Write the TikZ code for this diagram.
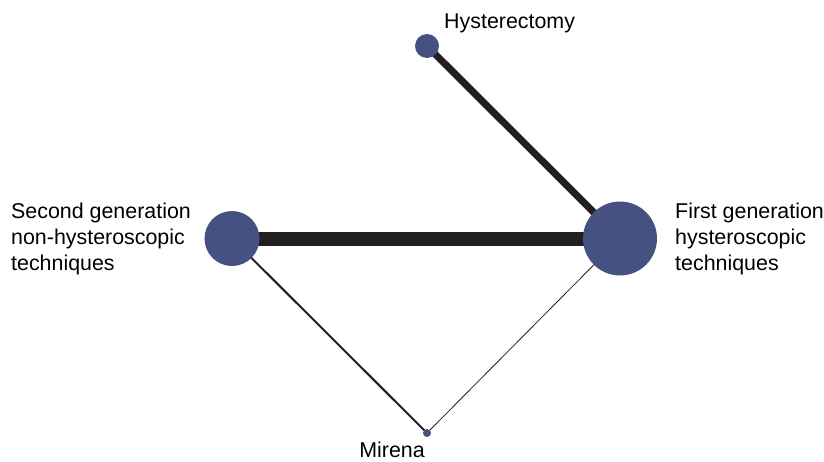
\documentclass[tikz,border=0pt]{standalone}
\usepackage{fontspec}
\setmainfont{Liberation Sans}
\usetikzlibrary{backgrounds}
\definecolor{dotblue}{RGB}{69,81,128}
\definecolor{edgeblack}{RGB}{35,31,32}

\begin{document}
\begin{tikzpicture}[x=1pt,y=-1pt,
  dot/.style={circle, fill=dotblue, inner sep=0pt},
  lbl/.style={inner sep=0pt, font=\fontsize{21.4}{26}\selectfont, align=left},
  link/.style={draw=edgeblack}]
\useasboundingbox (0,0) rectangle (824,461);

\node[dot, minimum size=24pt] (hyst) at (427,46) {};
\node[dot, minimum size=74pt] (first) at (620,238.5) {};
\node[dot, minimum size=55pt] (second) at (232,238.5) {};
\node[dot, minimum size=8pt] (mirena) at (427,433) {};

\node[lbl, anchor=base west] (hystlbl) at (444,28) {Hysterectomy};
\node[lbl, anchor=west] (firstlbl) at (675,239) {First generation\\hysteroscopic\\techniques};
\node[lbl, anchor=west] (secondlbl) at (11,239) {Second generation\\non-hysteroscopic\\techniques};
\node[lbl, anchor=base] (mirenalbl) at (392,457) {Mirena};

\begin{pgfonlayer}{background}
\draw[link, line width=14pt] (second.center) -- (first.center);
\draw[link, line width=7pt] (hyst.center) -- (first.center);
\draw[link, line width=2pt] (second.center) -- (mirena.center);
\draw[link, line width=0.8pt] (first.center) -- (mirena.center);
\end{pgfonlayer}

\end{tikzpicture}
\end{document}
